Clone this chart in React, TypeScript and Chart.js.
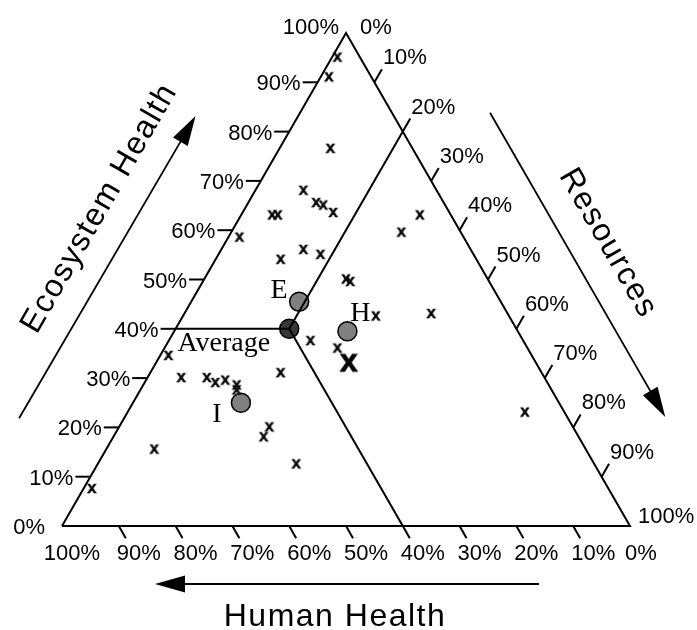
import React, { useEffect, useRef } from "react";
import { Chart, registerables } from "chart.js";

Chart.register(...registerables);

// ---- tick labels (percent) ----
const ecoTickValues = [0, 10, 20, 30, 40, 50, 60, 70, 80, 90, 100];
const ecoTickLabels = ["0%", "10%", "20%", "30%", "40%", "50%", "60%", "70%", "80%", "90%", "100%"];
const resourceTickValues = [0, 10, 20, 30, 40, 50, 60, 70, 80, 90, 100];
const resourceTickLabels = ["0%", "10%", "20%", "30%", "40%", "50%", "60%", "70%", "80%", "90%", "100%"];
const humanTickValues = [100, 90, 80, 70, 60, 50, 40, 30, 20, 10, 0];
const humanTickLabels = ["100%", "90%", "80%", "70%", "60%", "50%", "40%", "30%", "20%", "10%", "0%"];

// ---- axis titles ----
const ecoTitle = "Ecosystem Health";
const resourceTitle = "Resources";
const humanTitle = "Human Health";

// ---- sample observations (percent composition) ----
const sampleEco = [95, 91, 76.5, 68, 65.5, 65, 63.5, 63, 63, 58.5, 56, 55, 54, 50, 49.5, 59.5, 63, 43, 23, 37.5, 36, 42.5, 34.5, 30, 30, 29, 29.5, 28.5, 27.5, 31, 20, 18, 15.5, 12.5, 7.5];
const sampleResources = [1, 1.5, 9, 8.5, 12, 13.5, 16, 5.5, 6.5, 2, 14.5, 18, 11.5, 25, 26, 30, 31.5, 43.5, 70, 25, 30.5, 34, 1.5, 6, 10.5, 12.5, 14, 16.5, 17, 23, 26.5, 26.5, 8.5, 35, 1.5];
const sampleHuman = [4, 7.5, 14.5, 23.5, 22.5, 21.5, 20.5, 31.5, 30.5, 39.5, 29.5, 27, 34.5, 25, 24.5, 10.5, 5.5, 13.5, 7, 37.5, 33.5, 23.5, 64, 64, 59.5, 58.5, 56.5, 55, 55.5, 46, 53.5, 55.5, 76, 52.5, 91];

// ---- highlighted scenarios ----
const highlightNames = ["E", "H", "I"];
const highlightEco = [45.5, 39.5, 25];
const highlightResources = [19, 30.5, 19];
const highlightHuman = [35.5, 30, 56];

// ---- average ----
const averageName = "Average";
const averageEco = 40;
const averageResources = 20;
const averageHuman = 40;

// ---- equal-weight point ----
const equalEco = [33];
const equalResources = [34];
const equalHuman = [33];

// ternary -> cartesian data coordinates (x: 0..100 along base, y: eco %)
const toXY = (eco: number, res: number) => ({ x: res + eco / 2, y: eco });

// layout constants (pixels)
const W = 697;
const H = 630;
const BASE_LEFT = 62;
const BASE_Y = 526;
const PX_PER_X = 5.68;
const PX_PER_Y = 4.93;

function makeXImage(fontPx: number, size: number) {
  const c = document.createElement("canvas");
  c.width = size;
  c.height = size;
  const g = c.getContext("2d")!;
  g.fillStyle = "#000";
  g.strokeStyle = "#000";
  g.lineWidth = fontPx > 20 ? 0.8 : 0.4;
  g.font = `bold ${fontPx}px "Liberation Sans", Arial, sans-serif`;
  g.textAlign = "center";
  g.textBaseline = "alphabetic";
  g.fillText("x", size / 2, size / 2 + fontPx * 0.26);
  g.strokeText("x", size / 2, size / 2 + fontPx * 0.26);
  return c;
}

function drawArrow(ctx: CanvasRenderingContext2D, sx: number, sy: number, ex: number, ey: number) {
  const len = Math.hypot(ex - sx, ey - sy);
  const ux = (ex - sx) / len;
  const uy = (ey - sy) / len;
  const headL = 30;
  const headW = 8.5;
  const bx = ex - ux * headL;
  const by = ey - uy * headL;
  ctx.beginPath();
  ctx.moveTo(sx, sy);
  ctx.lineTo(bx + ux * 2, by + uy * 2);
  ctx.stroke();
  ctx.beginPath();
  ctx.moveTo(ex, ey);
  ctx.lineTo(bx - uy * headW, by + ux * headW);
  ctx.lineTo(bx + uy * headW, by - ux * headW);
  ctx.closePath();
  ctx.fill();
}

const decorPlugin = {
  id: "ternaryDecor",
  afterDatasetsDraw(chart: any) {
    const ctx: CanvasRenderingContext2D = chart.ctx;
    const xs = chart.scales.x;
    const ys = chart.scales.y;
    const pix = (e: number, r: number) => {
      const p = toXY(e, r);
      return { x: xs.getPixelForValue(p.x), y: ys.getPixelForValue(p.y) };
    };
    const BL = pix(0, 0);
    const BR = pix(0, 100);
    const TOP = pix(100, 0);
    const lenL = Math.hypot(TOP.x - BL.x, TOP.y - BL.y);
    const dL = { x: (TOP.x - BL.x) / lenL, y: (TOP.y - BL.y) / lenL };
    const nL = { x: dL.y, y: -dL.x };
    const lenR = Math.hypot(BR.x - TOP.x, BR.y - TOP.y);
    const dR = { x: (BR.x - TOP.x) / lenR, y: (BR.y - TOP.y) / lenR };
    const nR = { x: dR.y, y: -dR.x };
    const tickLen = 15;

    ctx.save();
    ctx.strokeStyle = "#000";
    ctx.fillStyle = "#000";
    ctx.lineWidth = 2;
    ctx.lineCap = "butt";
    const tickFont = `22px "Liberation Sans", Arial, sans-serif`;
    ctx.font = tickFont;

    // Ecosystem (left edge) ticks + labels
    ecoTickValues.forEach((v, i) => {
      const P = pix(v, 0);
      if (v > 0 && v < 100) {
        ctx.beginPath();
        ctx.moveTo(P.x, P.y);
        ctx.lineTo(P.x - tickLen, P.y);
        ctx.stroke();
      }
      ctx.textBaseline = "middle";
      if (v === 100) {
        ctx.textAlign = "right";
        ctx.fillText(ecoTickLabels[i], P.x - 7, P.y - 5);
      } else {
        ctx.textAlign = "right";
        ctx.fillText(ecoTickLabels[i], P.x - tickLen - 2, P.y + 2);
      }
    });

    // Resources (right edge) ticks + labels
    resourceTickValues.forEach((v, i) => {
      const P = pix(100 - v, v);
      const E = { x: P.x + dL.x * tickLen, y: P.y + dL.y * tickLen };
      if (v > 0 && v < 100) {
        ctx.beginPath();
        ctx.moveTo(P.x, P.y);
        ctx.lineTo(E.x, E.y);
        ctx.stroke();
      }
      ctx.textBaseline = "middle";
      ctx.textAlign = "left";
      if (v === 0) {
        ctx.fillText(resourceTickLabels[i], P.x + 14, P.y - 5);
      } else if (v === 100) {
        ctx.fillText(resourceTickLabels[i], P.x + 8, P.y - 9);
      } else {
        ctx.fillText(resourceTickLabels[i], E.x + 1, E.y - 11);
      }
    });

    // Human (bottom edge) ticks + labels
    humanTickValues.forEach((v, i) => {
      const P = pix(0, 100 - v);
      const E = { x: P.x + dR.x * 14, y: P.y + dR.y * 14 };
      if (v > 0 && v < 100) {
        ctx.beginPath();
        ctx.moveTo(P.x, P.y);
        ctx.lineTo(E.x, E.y);
        ctx.stroke();
      }
      ctx.textBaseline = "middle";
      ctx.textAlign = "center";
      let cx = E.x + 13;
      if (v === 100) cx = P.x + 10;
      if (v === 0) cx = P.x + 11;
      ctx.fillText(humanTickLabels[i], cx, P.y + 28);
    });

    // arrows
    ctx.lineWidth = 1.8;
    drawArrow(
      ctx,
      BL.x + dL.x * 72 + nL.x * 91,
      BL.y + dL.y * 72 + nL.y * 91,
      BL.x + dL.x * 422 + nL.x * 89,
      BL.y + dL.y * 422 + nL.y * 89
    );
    drawArrow(
      ctx,
      TOP.x + dR.x * 141 + nR.x * 85,
      TOP.y + dR.y * 141 + nR.y * 85,
      TOP.x + dR.x * 492 + nR.x * 85,
      TOP.y + dR.y * 492 + nR.y * 85
    );
    drawArrow(ctx, BL.x + 477, BL.y + 58, BL.x + 93, BL.y + 58);

    // axis titles
    ctx.font = `32px "Liberation Sans", Arial, sans-serif`;
    (ctx as any).letterSpacing = "1.5px";
    ctx.textAlign = "center";
    ctx.textBaseline = "middle";
    ctx.save();
    ctx.translate(BL.x + dL.x * 294 + nL.x * 126, BL.y + dL.y * 294 + nL.y * 126);
    ctx.rotate(Math.atan2(dL.y, dL.x));
    ctx.fillText(ecoTitle, 0, 0);
    ctx.restore();
    ctx.save();
    ctx.translate(TOP.x + dR.x * 313 + nR.x * 122, TOP.y + dR.y * 313 + nR.y * 122);
    ctx.rotate(Math.atan2(dR.y, dR.x));
    ctx.fillText(resourceTitle, 0, 0);
    ctx.restore();
    ctx.fillText(humanTitle, BL.x + 273, BL.y + 91);
    (ctx as any).letterSpacing = "0px";

    // point annotations
    ctx.font = `28px "Liberation Serif", "Times New Roman", serif`;
    ctx.textBaseline = "alphabetic";
    const hp = highlightNames.map((_, i) => pix(highlightEco[i], highlightResources[i]));
    const offsets: Record<string, [number, number]> = { E: [-20, -4], H: [13, -10], I: [-24, 19] };
    highlightNames.forEach((n, i) => {
      const [ox, oy] = offsets[n];
      ctx.textAlign = "center";
      ctx.fillText(n, hp[i].x + ox, hp[i].y + oy);
    });
    const ap = pix(averageEco, averageResources);
    ctx.textAlign = "right";
    ctx.fillText(averageName, ap.x - 19, ap.y + 22);

    ctx.restore();
  },
};

export default function App() {
  const ref = useRef<HTMLCanvasElement>(null);

  useEffect(() => {
    if (!ref.current) return;
    const smallX = makeXImage(17, 20);
    const bigX = makeXImage(32, 40);

    const triangle = [toXY(0, 0), toXY(0, 100), toXY(100, 0), toXY(0, 0)];
    const avgPt = toXY(averageEco, averageResources);
    const avgLine1 = [
      toXY(averageEco, 0),
      avgPt,
      toXY(100 - averageResources, averageResources),
    ];
    const avgLine2 = [avgPt, toXY(0, 100 - averageHuman)];

    const chart = new Chart(ref.current, {
      type: "scatter",
      data: {
        datasets: [
          {
            data: sampleEco.map((e, i) => toXY(e, sampleResources[i])),
            pointStyle: smallX as any,
            pointRadius: 8,
            order: 0,
          },
          {
            data: equalEco.map((e, i) => toXY(e, equalResources[i])),
            pointStyle: bigX as any,
            pointRadius: 16,
            order: 0,
          },
          {
            data: triangle,
            showLine: true,
            borderColor: "#000",
            borderWidth: 2,
            pointRadius: 0,
            borderJoinStyle: "miter",
            fill: false,
            order: 1,
          },
          {
            data: avgLine1,
            showLine: true,
            borderColor: "#000",
            borderWidth: 2,
            pointRadius: 0,
            fill: false,
            order: 1,
          },
          {
            data: avgLine2,
            showLine: true,
            borderColor: "#000",
            borderWidth: 2,
            pointRadius: 0,
            fill: false,
            order: 1,
          },
          {
            data: highlightEco.map((e, i) => toXY(e, highlightResources[i])),
            pointStyle: "circle",
            pointRadius: 9.5,
            pointBackgroundColor: "#808080",
            pointBorderColor: "#000",
            pointBorderWidth: 1.5,
            order: 3,
          },
          {
            data: [avgPt],
            pointStyle: "circle",
            pointRadius: 9.5,
            pointBackgroundColor: "#383838",
            pointBorderColor: "#000",
            pointBorderWidth: 1.5,
            order: 3,
          },
        ],
      },
      options: {
        responsive: false,
        animation: false,
        devicePixelRatio: 1,
        events: [],
        layout: { padding: 0, autoPadding: false },
        plugins: {
          legend: { display: false },
          tooltip: { enabled: false },
          title: { display: false },
        },
        scales: {
          x: {
            type: "linear",
            display: false,
            min: -BASE_LEFT / PX_PER_X,
            max: (W - BASE_LEFT) / PX_PER_X,
          },
          y: {
            type: "linear",
            display: false,
            min: -(H - BASE_Y) / PX_PER_Y,
            max: BASE_Y / PX_PER_Y,
          },
        },
      },
      plugins: [decorPlugin],
    });
    return () => chart.destroy();
  }, []);

  return (
    <div style={{ position: "absolute", left: 0, top: 0, width: W, height: H, background: "#fff" }}>
      <canvas ref={ref} width={W} height={H} style={{ display: "block" }} />
    </div>
  );
}
